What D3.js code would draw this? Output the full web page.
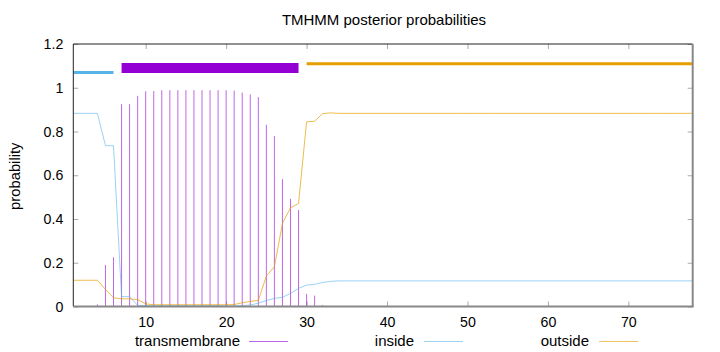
<!DOCTYPE html>
<html>
<head>
<meta charset="utf-8">
<script src="https://cdn.jsdelivr.net/npm/d3@7"></script>
<style>
  body { margin: 0; background: #fff; }
  svg { font-family: "Liberation Sans", Arial, sans-serif; }
</style>
</head>
<body>
<div id="chart"></div>
<script>
// residue positions 1..78
const positions = d3.range(1, 79);

// posterior probabilities per residue
const transmembrane = [
  0, 0, 0, 0.01, 0.19, 0.225, 0.925, 0.925, 0.963, 0.984,
  0.985, 0.989, 0.989, 0.989, 0.989, 0.989, 0.989, 0.989, 0.989, 0.989,
  0.987, 0.978, 0.970, 0.957, 0.831, 0.779, 0.582, 0.492, 0.441, 0.057,
  0.05, 0.007
];
const inside = [
  0.883, 0.883, 0.883, 0.883, 0.735, 0.735, 0.045, 0.045, 0.005, 0.004,
  0.004, 0.004, 0.004, 0.004, 0.004, 0.004, 0.004, 0.004, 0.004, 0.003,
  0.003, 0.004, 0.007, 0.015, 0.027, 0.037, 0.042, 0.06, 0.083, 0.098,
  0.101, 0.11, 0.115
];
const outside = [
  0.12, 0.12, 0.12, 0.12, 0.078, 0.04, 0.035, 0.035, 0.032, 0.012,
  0.008, 0.008, 0.008, 0.008, 0.008, 0.008, 0.008, 0.008, 0.008, 0.008,
  0.009, 0.017, 0.023, 0.028, 0.139, 0.182, 0.38, 0.451, 0.471, 0.844,
  0.847, 0.882, 0.885
];
const insideTail = 0.117;
const outsideTail = 0.883;

// predicted topology segments
const segments = [
  {label: 'inside', start: 1, end: 6, level: 1.07},
  {label: 'transmembrane', start: 7, end: 29, level: 1.09},
  {label: 'outside', start: 30, end: 78, level: 1.11}
];

const xTicks = [10, 20, 30, 40, 50, 60, 70];
const yTicks = [0, 0.2, 0.4, 0.6, 0.8, 1, 1.2];

const colors = {transmembrane: '#9400d3', inside: '#56b4e9', outside: '#e69f00'};

const W = 720, H = 352;
const margin = {top: 44, right: 27.3, bottom: 45.5, left: 73.3};

const svg = d3.select('#chart').append('svg')
  .attr('width', W)
  .attr('height', H);

const x = d3.scaleLinear().domain([1, 78]).range([margin.left, W - margin.right]);
const y = d3.scaleLinear().domain([0, 1.2]).range([H - margin.bottom, margin.top]);

const tmVals = positions.map((p, i) => ({p, v: transmembrane[i] || 0}));
const inVals = positions.map((p, i) => ({p, v: i < inside.length ? inside[i] : insideTail}));
const outVals = positions.map((p, i) => ({p, v: i < outside.length ? outside[i] : outsideTail}));

// title
svg.append('text')
  .attr('x', 384).attr('y', 25)
  .attr('text-anchor', 'middle')
  .attr('font-size', 15)
  .text('TMHMM posterior probabilities');

// y label
svg.append('text')
  .attr('transform', `translate(20,${(y(0) + y(1.2)) / 2 + 1}) rotate(-90)`)
  .attr('text-anchor', 'middle')
  .attr('font-size', 14.8)
  .text('probability');

// axes (ticks inside, mirrored)
const fmt = d => String(+d.toFixed(1));
svg.append('g')
  .attr('transform', `translate(0,${y(0)})`)
  .call(d3.axisBottom(x).tickValues(xTicks).tickSize(-5).tickPadding(10))
  .call(g => g.select('.domain').remove());
svg.append('g')
  .attr('transform', `translate(0,${y(1.2)})`)
  .call(d3.axisTop(x).tickValues(xTicks).tickSize(-5).tickFormat(''))
  .call(g => g.select('.domain').remove());
svg.append('g')
  .attr('transform', `translate(${x(1)},0)`)
  .call(d3.axisLeft(y).tickValues(yTicks).tickSize(-5).tickPadding(10).tickFormat(fmt))
  .call(g => g.select('.domain').remove());
svg.append('g')
  .attr('transform', `translate(${x(78)},0)`)
  .call(d3.axisRight(y).tickValues(yTicks).tickSize(-5).tickFormat(''))
  .call(g => g.select('.domain').remove());

svg.selectAll('.tick line').attr('stroke', '#aaa');
svg.selectAll('.tick text').attr('font-size', 14.2).attr('fill', '#000')
  .attr('font-family', '"Liberation Sans", Arial, sans-serif');

// topology bars
svg.append('g').selectAll('line')
  .data(segments)
  .join('line')
    .attr('x1', d => x(d.start))
    .attr('x2', d => x(d.end))
    .attr('y1', d => y(d.level))
    .attr('y2', d => y(d.level))
    .attr('stroke', d => colors[d.label])
    .attr('stroke-width', d => d.label === 'transmembrane' ? 10 : 3);

// transmembrane impulses
svg.append('g').selectAll('line')
  .data(tmVals.filter(d => d.v > 0))
  .join('line')
    .attr('x1', d => x(d.p))
    .attr('x2', d => x(d.p))
    .attr('y1', y(0))
    .attr('y2', d => y(d.v))
    .attr('stroke', colors.transmembrane)
    .attr('stroke-opacity', 0.6)
    .attr('stroke-width', 1);

// inside / outside lines
const line = d3.line().x(d => x(d.p)).y(d => y(d.v));
svg.append('path')
  .datum(inVals)
  .attr('d', line)
  .attr('fill', 'none')
  .attr('stroke', colors.inside)
  .attr('stroke-opacity', 0.6);
svg.append('path')
  .datum(outVals)
  .attr('d', line)
  .attr('fill', 'none')
  .attr('stroke', colors.outside)
  .attr('stroke-opacity', 0.7);

// border
svg.append('line').attr('x1', x(1)).attr('x2', x(78)).attr('y1', y(1.2)).attr('y2', y(1.2))
  .attr('stroke', '#222');
svg.append('line').attr('x1', x(1)).attr('x2', x(1)).attr('y1', y(1.2)).attr('y2', y(0))
  .attr('stroke', '#222');
svg.append('line').attr('x1', x(1)).attr('x2', x(78) + 1).attr('y1', y(0)).attr('y2', y(0))
  .attr('stroke', '#888').attr('stroke-width', 2);
svg.append('line').attr('x1', x(78)).attr('x2', x(78)).attr('y1', y(1.2)).attr('y2', y(0))
  .attr('stroke', '#888').attr('stroke-width', 2);

// legend
const legend = [
  {label: 'transmembrane', tx: 240, lx: 249},
  {label: 'inside', tx: 414, lx: 424},
  {label: 'outside', tx: 589, lx: 599}
];
const lg = svg.append('g').selectAll('g').data(legend).join('g');
lg.append('text')
  .attr('x', d => d.tx).attr('y', 346)
  .attr('text-anchor', 'end')
  .attr('font-size', 15)
  .text(d => d.label);
lg.append('line')
  .attr('x1', d => d.lx).attr('x2', d => d.lx + 39)
  .attr('y1', 341.5).attr('y2', 341.5)
  .attr('stroke', d => colors[d.label])
  .attr('stroke-opacity', 0.6);
</script>
</body>
</html>
